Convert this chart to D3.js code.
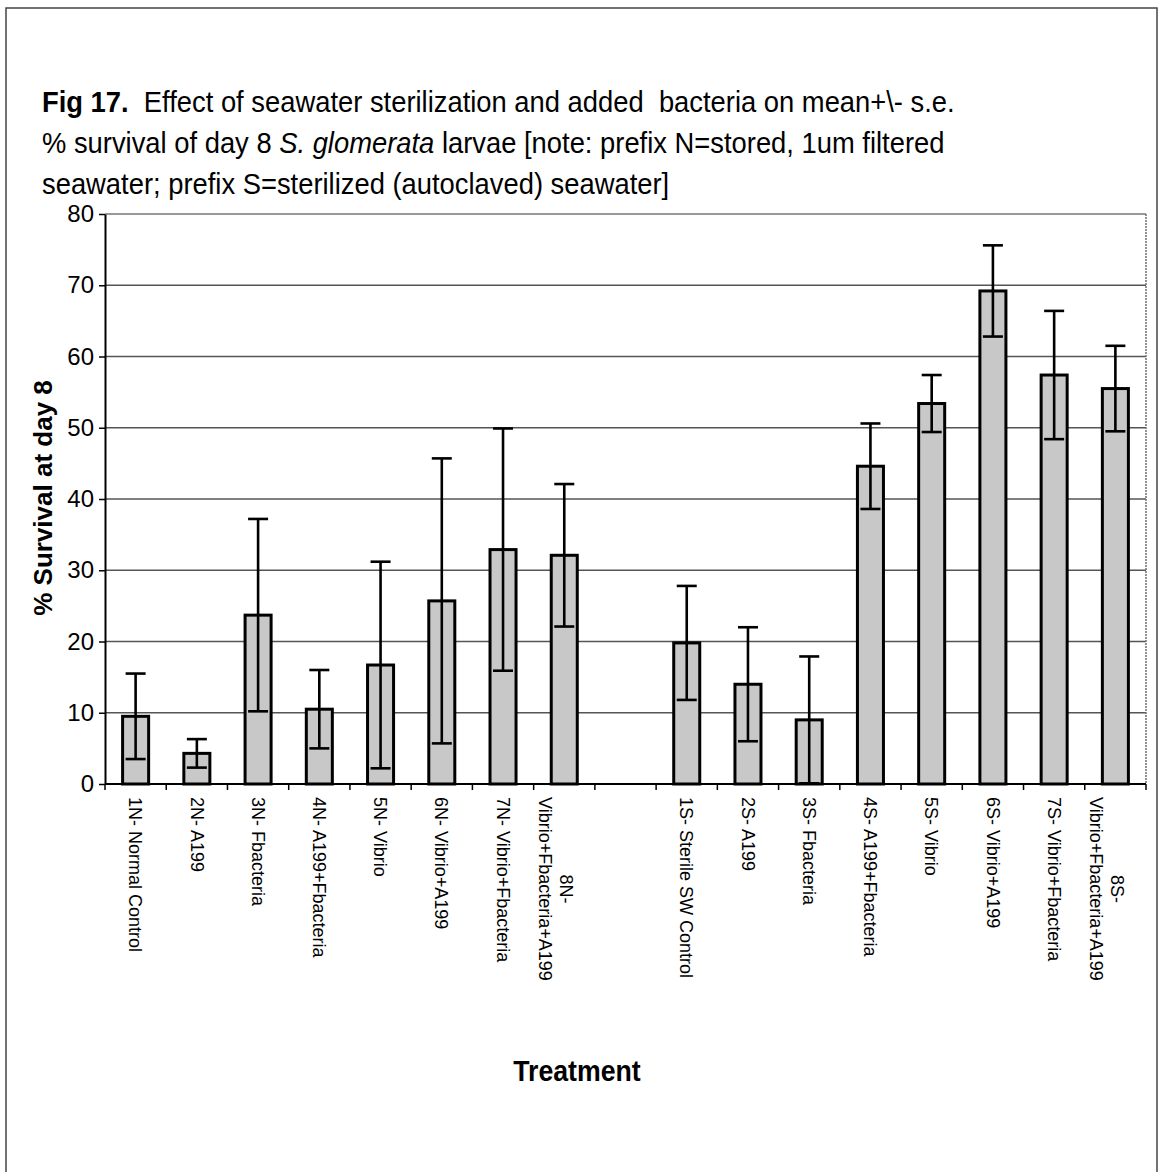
<!DOCTYPE html>
<html>
<head>
<meta charset="utf-8">
<script src="https://cdn.jsdelivr.net/npm/d3@7"></script>
<style>
  html, body { margin: 0; padding: 0; background: #fff; }
  svg { display: block; font-family: "Liberation Sans", Arial, sans-serif; }
  text { white-space: pre; }
</style>
</head>
<body>
<script>
// ---- data ----
const categories = [
  "1N- Normal Control", "2N- A199", "3N- Fbacteria", "4N- A199+Fbacteria",
  "5N- Vibrio", "6N- Vibrio+A199", "7N- Vibrio+Fbacteria", "8N- Vibrio+Fbacteria+A199",
  " ",
  "1S- Sterile SW Control", "2S- A199", "3S- Fbacteria", "4S- A199+Fbacteria",
  "5S- Vibrio", "6S- Vibrio+A199", "7S- Vibrio+Fbacteria", "8S- Vibrio+Fbacteria+A199"
];
const meanSurvival = [9.5, 4.3, 23.7, 10.5, 16.7, 25.7, 32.9, 32.1, null,
                      19.8, 14.0, 9.0, 44.6, 53.4, 69.2, 57.4, 55.5];
const stdError = [6.0, 2.0, 13.5, 5.5, 14.5, 20.0, 17.0, 10.0, null,
                  8.0, 8.0, 8.9, 6.0, 4.0, 6.4, 9.0, 6.0];
const yTicks = [0, 10, 20, 30, 40, 50, 60, 70, 80];
const titleLines = [
  [{t: "Fig 17.", b: true}, {t: "  Effect of seawater sterilization and added  bacteria on mean+\\- s.e."}],
  [{t: "% survival of day 8 "}, {t: "S. glomerata", i: true}, {t: " larvae [note: prefix N=stored, 1um filtered"}],
  [{t: "seawater; prefix S=sterilized (autoclaved) seawater]"}]
];
const yTitle = "% Survival at day 8";
const xTitle = "Treatment";

// ---- layout ----
const W = 1161, H = 1172;
const plot = {left: 105, right: 1146, top: 214, bottom: 784};

const svg = d3.select("body").append("svg").attr("width", W).attr("height", H);

// outer frame
svg.append("rect").attr("x", 6).attr("y", 8).attr("width", 1151).attr("height", 1180)
  .attr("fill", "none").attr("stroke", "#444").attr("stroke-width", 1.5);

// scales
const x = d3.scaleBand().domain(categories).range([plot.left, plot.right])
  .paddingInner(0.575).paddingOuter(0.2875);
const y = d3.scaleLinear().domain([0, 80]).range([plot.bottom, plot.top]);

// gridlines
svg.append("g").selectAll("line").data(yTicks.filter(d => d > 0)).join("line")
  .attr("x1", plot.left).attr("x2", plot.right)
  .attr("y1", d => y(d)).attr("y2", d => y(d))
  .attr("stroke", d => d === 80 ? "#777" : "#555").attr("stroke-width", 1.4);

// right border (dotted grey)
svg.append("line").attr("x1", plot.right).attr("x2", plot.right)
  .attr("y1", plot.top).attr("y2", plot.bottom)
  .attr("stroke", "#777").attr("stroke-width", 1.6).attr("stroke-dasharray", "2,1");

// bars
const data = categories.map((c, i) => ({c, m: meanSurvival[i], se: stdError[i]})).filter(d => d.m !== null);
svg.append("g").selectAll("rect").data(data).join("rect")
  .attr("x", d => x(d.c)).attr("width", x.bandwidth())
  .attr("y", d => y(d.m)).attr("height", d => y(0) - y(d.m))
  .attr("fill", "#c8c8c8").attr("stroke", "#000").attr("stroke-width", 3);

// error bars
const capW = 20;
const eb = svg.append("g").attr("stroke", "#000").attr("stroke-width", 2.6);
data.forEach(d => {
  const cx = x(d.c) + x.bandwidth() / 2;
  const lo = Math.max(0, d.m - d.se), hi = d.m + d.se;
  eb.append("line").attr("x1", cx).attr("x2", cx).attr("y1", y(hi)).attr("y2", y(lo));
  eb.append("line").attr("x1", cx - capW/2).attr("x2", cx + capW/2).attr("y1", y(hi)).attr("y2", y(hi));
  eb.append("line").attr("x1", cx - capW/2).attr("x2", cx + capW/2).attr("y1", y(lo)).attr("y2", y(lo));
});

// y axis
const yAxis = svg.append("g").attr("transform", `translate(${plot.left},0)`)
  .call(d3.axisLeft(y).tickValues(yTicks).tickSize(6).tickPadding(5).tickSizeOuter(0));
yAxis.select(".domain").attr("stroke", "#000").attr("stroke-width", 2);
yAxis.selectAll(".tick line").attr("stroke", "#000").attr("stroke-width", 1.5);
yAxis.selectAll(".tick text").attr("font-size", 24).attr("fill", "#000")
  .attr("font-family", "'Liberation Sans', Arial, sans-serif");

// x axis line + boundary ticks
svg.append("line").attr("x1", plot.left).attr("x2", plot.right)
  .attr("y1", plot.bottom).attr("y2", plot.bottom)
  .attr("stroke", "#000").attr("stroke-width", 2);
const bounds = categories.map(c => x(c) + x.bandwidth()/2 - x.step()/2).concat([plot.right]);
svg.append("g").selectAll("line").data(bounds).join("line")
  .attr("x1", d => d).attr("x2", d => d)
  .attr("y1", plot.bottom).attr("y2", plot.bottom + 6)
  .attr("stroke", "#000").attr("stroke-width", 1.5);

// x tick labels (rotated, reading downward)
const labFont = 18;
categories.forEach(c => {
  if (!c.trim()) return;
  const cx = x(c) + x.bandwidth() / 2;
  const g = svg.append("g").attr("transform", `translate(${cx},797) rotate(90)`);
  if (c.length > 22) {
    const parts = [c.slice(0, c.indexOf("- ") + 1), c.slice(c.indexOf("- ") + 2)];
    const l2 = g.append("text").attr("x", 0).attr("y", 19).attr("dy", "0.35em")
      .attr("font-size", labFont).attr("fill", "#000").text(parts[1]);
    const len = l2.node().getComputedTextLength();
    g.append("text").attr("x", len / 2).attr("y", -2).attr("dy", "0.35em")
      .attr("text-anchor", "middle").attr("font-size", labFont).attr("fill", "#000").text(parts[0]);
  } else {
    g.append("text").attr("x", 0).attr("y", 0).attr("dy", "0.35em")
      .attr("font-size", labFont).attr("fill", "#000").text(c);
  }
});

// y title
svg.append("text").attr("transform", "translate(52,498) rotate(-90)")
  .attr("text-anchor", "middle").attr("font-size", 26).attr("font-weight", "bold")
  .attr("fill", "#000").text(yTitle);

// x title
svg.append("text").attr("transform", "translate(577,1081) scale(0.89,1)")
  .attr("text-anchor", "middle").attr("font-size", 30).attr("font-weight", "bold")
  .attr("fill", "#000").text(xTitle);

// title (condensed)
const tg = svg.append("g");
const baselines = [112, 153, 194];
const texts = titleLines.map((line, li) => {
  const t = tg.append("text").attr("x", 0).attr("y", baselines[li])
    .attr("font-size", 30).attr("fill", "#000");
  line.forEach(seg => {
    const s = t.append("tspan").text(seg.t);
    if (seg.b) s.attr("font-weight", "bold");
    if (seg.i) s.attr("font-style", "italic");
  });
  return t;
});
const natural = texts[0].node().getComputedTextLength();
const sx = 913 / natural;
tg.attr("transform", `translate(42,0) scale(${sx},1)`);
</script>
</body>
</html>
